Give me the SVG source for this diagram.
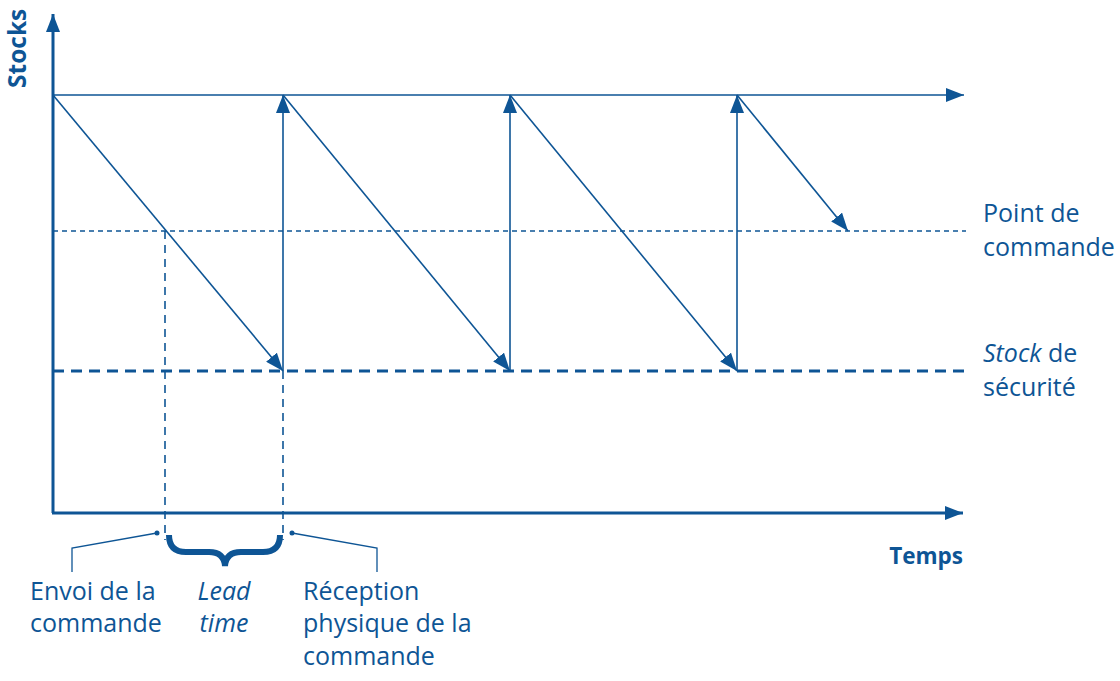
<svg xmlns="http://www.w3.org/2000/svg" width="1120" height="681" viewBox="0 0 1120 681">
<style>
.ln{stroke:#0e5595;fill:none;stroke-width:1.6}
.thick{stroke-width:3.2}
.thin{stroke-width:1.3}
.ax{stroke:#0e5595;fill:none;stroke-width:3}
.t{font-family:"Open Sans","Noto Sans",sans-serif;font-size:25px;fill:#0e5595}
.b{font-weight:bold}
.i{font-style:italic}
</style>
<defs>
<marker id="ah" markerUnits="userSpaceOnUse" viewBox="0 0 18 14" refX="18" refY="7" markerWidth="18" markerHeight="14" orient="auto">
<path d="M0,0 L18,7 L0,14 Z" fill="#0e5595"/>
</marker>
</defs>
<rect width="1120" height="681" fill="#ffffff"/>
<g id="connectors">
<path class="ax" d="M53,513 L53,14" marker-end="url(#ah)"/>
<path class="ax" d="M52,513 L963,513" marker-end="url(#ah)"/>
<path class="ln" d="M53,95 L964,95" marker-end="url(#ah)"/>
<path class="ln" d="M53,231 L966,231" stroke-dasharray="5,4"/>
<path class="ln thick" d="M53,371 L966,371" stroke-dasharray="11,7"/>
<path class="ln" d="M165,231 L165,540" stroke-dasharray="8,6"/>
<path class="ln" d="M283,371 L283,540" stroke-dasharray="8,6"/>
<path class="ln" d="M53,95 L283,371" marker-end="url(#ah)"/>
<path class="ln" d="M283,371 L283,95" marker-end="url(#ah)"/>
<path class="ln" d="M283,95 L510,371" marker-end="url(#ah)"/>
<path class="ln" d="M510,371 L510,95" marker-end="url(#ah)"/>
<path class="ln" d="M510,95 L737,371" marker-end="url(#ah)"/>
<path class="ln" d="M737,371 L737,95" marker-end="url(#ah)"/>
<path class="ln" d="M737,95 L848,231" marker-end="url(#ah)"/>
<path d="M169,535 Q169,552 186,552 L209,552 Q224,552 225,566 Q226,552 241,552 L263,552 Q280,552 280,535" fill="none" stroke="#0e5595" stroke-width="6"/>
<path class="ln thin" d="M157,533 L72,548 L72,572"/>
<circle cx="157" cy="533" r="2.5" fill="#0e5595"/>
<path class="ln thin" d="M292,533 L377,548 L377,572"/>
<circle cx="292" cy="533" r="2.5" fill="#0e5595"/>
</g>
<g id="axis-labels">
<text class="t b" x="0" y="0" transform="translate(26,88) rotate(-90)" style="font-size:24.5px">Stocks</text>
<text class="t b" x="963" y="564" text-anchor="end" style="font-size:22.5px">Temps</text>
</g>
<g id="point-de-commande">
<text class="t" x="983" y="222">Point de</text>
<text class="t" x="983" y="256">commande</text>
</g>
<g id="stock-de-securite">
<text class="t" x="983" y="362"><tspan class="i">Stock</tspan> de</text>
<text class="t" x="983" y="396">sécurité</text>
</g>
<g id="envoi">
<text class="t" x="30" y="600">Envoi de la</text>
<text class="t" x="30" y="632">commande</text>
</g>
<g id="lead-time">
<text class="t i" x="224" y="600" text-anchor="middle">Lead</text>
<text class="t i" x="224" y="632" text-anchor="middle">time</text>
</g>
<g id="reception">
<text class="t" x="303" y="600">Réception</text>
<text class="t" x="303" y="632">physique de la</text>
<text class="t" x="303" y="665">commande</text>
</g>
</svg>
